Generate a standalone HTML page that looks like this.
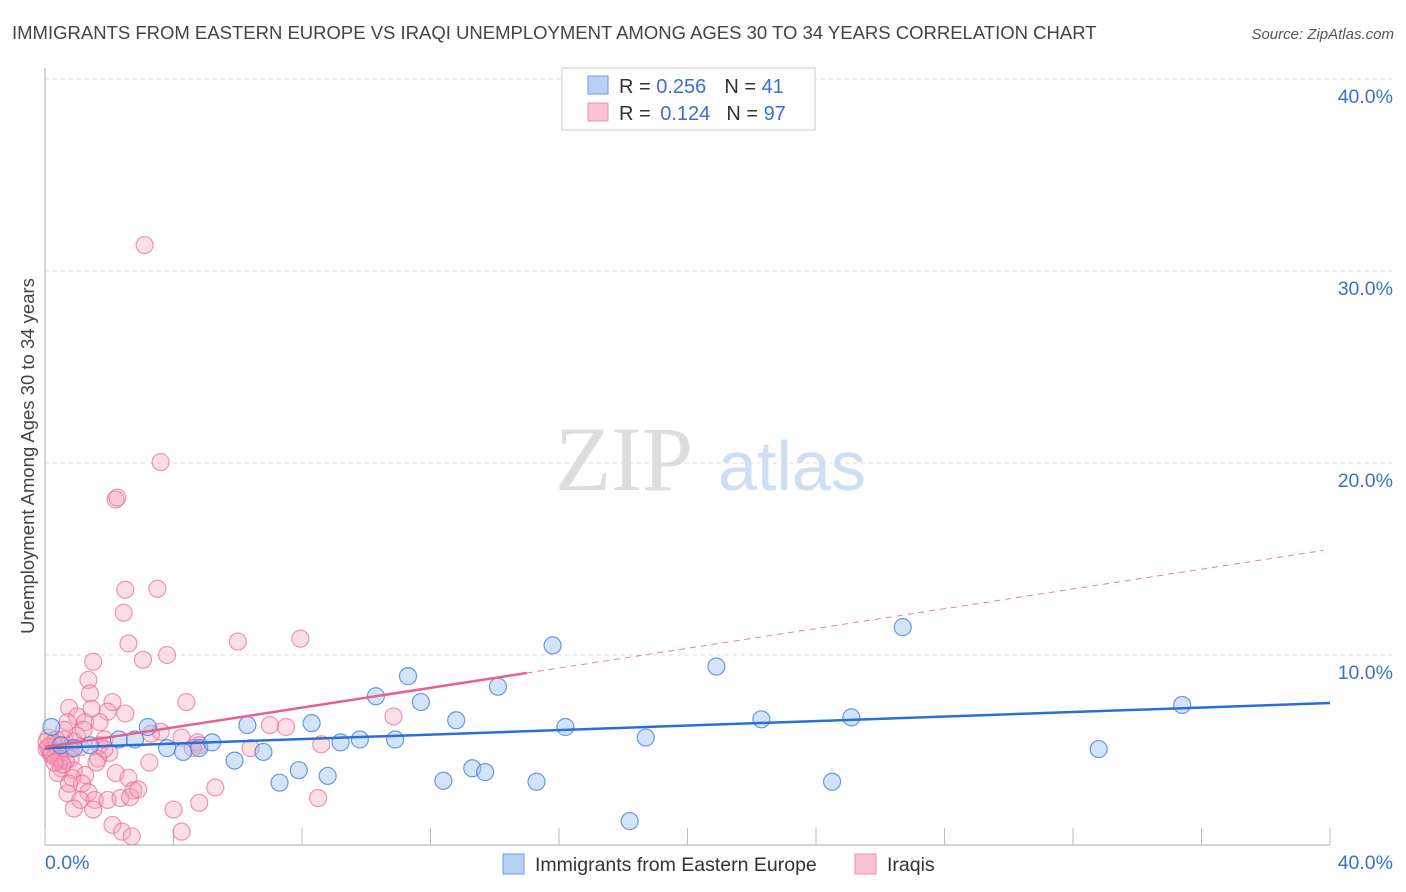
<!DOCTYPE html>
<html><head><meta charset="utf-8"><style>
body{margin:0;background:#fff;font-family:"Liberation Sans",sans-serif;}
svg{display:block}
</style></head><body>
<svg id="chart" width="1406" height="892">
<text x="12" y="39" font-size="18.5" fill="#444">IMMIGRANTS FROM EASTERN EUROPE VS IRAQI UNEMPLOYMENT AMONG AGES 30 TO 34 YEARS CORRELATION CHART</text>
<text x="1394" y="39" font-size="15" fill="#555" font-style="italic" text-anchor="end">Source: ZipAtlas.com</text>
<g id="grid"></g>
<text x="555" y="490" font-size="92" fill="#ddd" font-family="Liberation Serif,serif">ZIP</text>
<text x="718" y="490" font-size="70" fill="#cfdff3">atlas</text>
<g id="marks"></g>
<g id="lines"></g>
<text x="34" y="456" font-size="18.5" fill="#444" text-anchor="middle" transform="rotate(-90 34 456)">Unemployment Among Ages 30 to 34 years</text>
<g>
<rect x="562" y="68" width="253" height="62" fill="#fff" stroke="#ccc"/>
<rect x="588" y="76" width="20" height="18" fill="#b9d1f3" stroke="#6f9be0"/>
<rect x="588" y="103" width="20" height="18" fill="#f9c3d3" stroke="#ec8fab"/>
<text x="619" y="93" font-size="20" fill="#333">R = <tspan fill="#3a6fd1">0.256</tspan><tspan dx="18">N = </tspan><tspan fill="#3a6fd1">41</tspan></text>
<text x="619" y="120" font-size="20" fill="#333">R = <tspan dx="4" fill="#3a6fd1">0.124</tspan><tspan dx="16">N = </tspan><tspan fill="#3a6fd1">97</tspan></text>
</g>
<g>
<rect x="503" y="854" width="21" height="20" fill="#b9d1f3" stroke="#6f9be0"/>
<text x="535" y="871" font-size="19.5" fill="#333">Immigrants from Eastern Europe</text>
<rect x="855" y="854" width="21" height="20" fill="#f9c3d3" stroke="#ec8fab"/>
<text x="887" y="871" font-size="19.5" fill="#333">Iraqis</text>
</g>
</svg>
<script>
const blueX=[0.2,0.5,0.9,1.4,2.3,2.8,3.2,3.8,4.3,4.8,5.2,5.9,6.3,6.8,7.3,7.9,8.3,8.8,9.2,9.8,10.3,10.9,11.3,11.7,12.4,12.8,13.3,13.7,14.1,15.3,15.8,16.2,18.2,18.7,20.9,22.3,24.5,25.1,26.7,32.8,35.4];
const blueY=[6.25,5.3,5.15,5.3,5.6,5.6,6.25,5.15,4.95,5.15,5.45,4.5,6.35,4.95,3.35,4.0,6.45,3.7,5.45,5.6,7.85,5.6,8.9,7.55,3.45,6.6,4.1,3.9,8.35,3.4,10.5,6.25,1.35,5.7,9.4,6.65,3.4,6.75,11.45,5.1,7.4];
const pinkX=[3.1,3.6,2.2,2.25,2.5,3.5,2.45,2.6,6.0,7.95,3.8,3.05,1.5,1.35,1.4,0.75,2.1,4.4,1.95,2.5,1.45,1.0,0.7,1.25,1.7,10.85,7.0,7.5,3.6,4.25,4.75,0.1,0.3,0.05,0.2,0.4,0.5,0.6,0.8,0.9,1.1,0.5,0.8,1.7,1.85,2.0,1.65,1.85,6.4,8.6,4.8,4.6,3.25,0.5,0.9,1.25,0.85,0.4,2.2,2.6,1.15,1.35,0.7,1.1,1.55,1.95,2.35,2.75,2.65,5.3,4.8,4.0,8.5,2.1,2.4,2.7,4.25,1.5,0.15,0.3,0.45,0.65,0.25,0.35,0.55,1.0,0.1,0.2,0.3,0.6,1.2,1.6,2.9,3.3,0.9,0.05,0.75];
const pinkY=[31.35,20.05,18.1,18.2,13.4,13.45,12.2,10.6,10.7,10.85,10.0,9.75,9.65,8.7,8.0,7.25,7.55,7.55,7.05,6.95,7.2,6.8,6.5,6.5,6.5,6.8,6.35,6.25,6.0,5.7,5.45,5.7,5.3,5.1,4.8,4.95,5.3,5.6,5.1,5.5,5.2,4.5,4.6,5.3,5.6,4.9,4.6,5.1,5.15,5.35,5.3,5.15,4.4,4.1,4.0,3.75,3.6,3.85,3.85,3.6,3.3,2.85,2.8,2.45,2.45,2.45,2.55,2.95,2.6,3.1,2.3,1.95,2.55,1.15,0.8,0.55,0.8,1.95,5.0,4.7,4.6,4.5,5.4,5.6,4.3,5.8,5.2,4.9,4.4,6.1,6.1,4.4,3.0,5.9,2.0,5.5,3.3];
const xTicks=[0,4,8,12,16,20,24,28,32,36,40];
const yTicks=[10,20,30,40];
const yTickLabels=["10.0%","20.0%","30.0%","40.0%"];
const blueTrend=[5.15,7.5];
const pinkTrend=[5.2,15.5];
const pinkSolidEnd=15;
const NS="http://www.w3.org/2000/svg";
const X=v=>45+v*32.125, Y=v=>847-v*19.2;
function mk(t,a,p){const e=document.createElementNS(NS,t);for(const k in a)e.setAttribute(k,a[k]);p.appendChild(e);return e;}
const grid=document.getElementById('grid'),marks=document.getElementById('marks'),lines=document.getElementById('lines');
yTicks.forEach((t,i)=>{
 const l=mk('line',{x1:45,x2:1392,y1:Y(t),y2:Y(t),stroke:'#ddd','stroke-dasharray':'4,4'},grid);
 
 
 const tx=mk('text',{x:1393,y:Y(t)+24,'font-size':19.5,fill:'#3a6fd1','text-anchor':'end'},grid);
 tx.textContent=yTickLabels[i];
 
 
});
const ax=mk('line',{x1:45,x2:1330,y1:845,y2:845,stroke:'#aaa'},grid);


const ay=mk('line',{x1:45,x2:45,y1:68,y2:845,stroke:'#aaa'},grid);


xTicks.forEach(t=>{
 const l=mk('line',{x1:X(t),x2:X(t),y1:828,y2:845,stroke:'#bbb'},grid);
 
 
});
[[0,'0.0%','start',45],[40,'40.0%','end',1393]].forEach(d=>{
 const t=mk('text',{x:d[3],y:869,'font-size':19.5,fill:'#3a6fd1','text-anchor':d[2]},grid);
 t.textContent=d[1];
 
 
});
pinkX.forEach((v,i)=>{
 const c=mk('circle',{cx:X(v),cy:Y(pinkY[i]),r:8.5,fill:'rgba(245,160,185,0.35)',stroke:'rgba(230,110,150,0.7)','stroke-width':1.2},marks);
 
 
});
blueX.forEach((v,i)=>{
 const c=mk('circle',{cx:X(v),cy:Y(blueY[i]),r:8.5,fill:'rgba(160,195,240,0.45)',stroke:'rgba(70,130,215,0.8)','stroke-width':1.2},marks);
 
 
});
const bl=mk('line',{x1:X(0),y1:Y(blueTrend[0]),x2:X(40),y2:Y(blueTrend[1]),stroke:'#2a6fd6','stroke-width':2.5},lines);


const pAt=v=>pinkTrend[0]+(pinkTrend[1]-pinkTrend[0])*v/40;
const pl=mk('line',{x1:X(0),y1:Y(pAt(0)),x2:X(pinkSolidEnd),y2:Y(pAt(pinkSolidEnd)),stroke:'#e8608e','stroke-width':2.5},lines);


const pd=mk('line',{x1:X(pinkSolidEnd),y1:Y(pAt(pinkSolidEnd)),x2:X(39.8),y2:Y(pAt(39.8)),stroke:'#e8809e','stroke-width':1,'stroke-dasharray':'6,5'},lines);


</script>
</body></html>
